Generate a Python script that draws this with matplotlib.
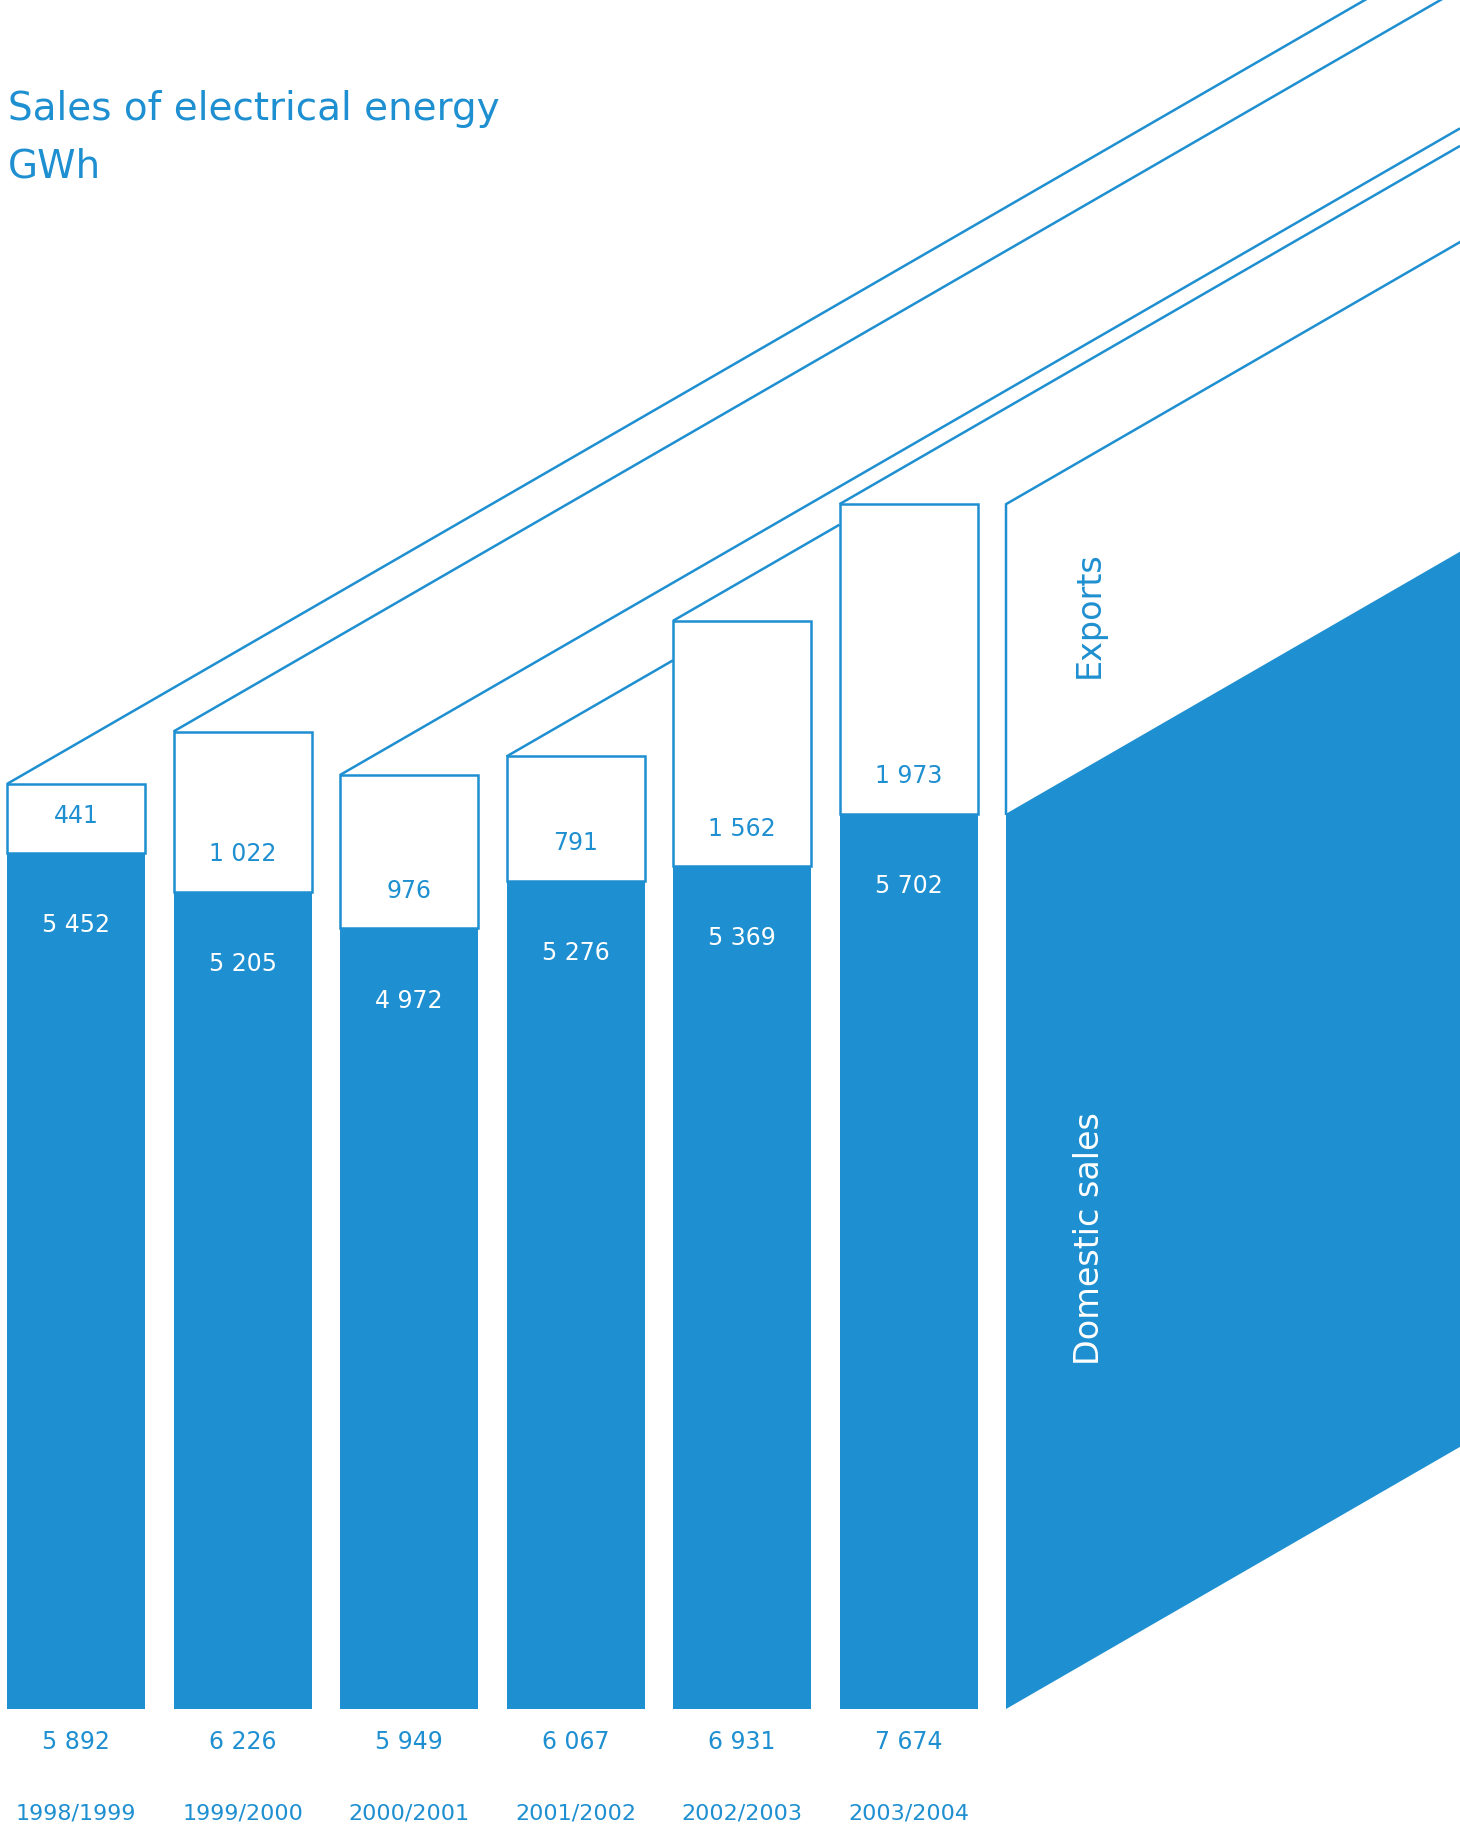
import numpy as np
import matplotlib
matplotlib.use("Agg")
import matplotlib.pyplot as plt
from matplotlib.patches import Rectangle, Polygon

years = ["1998/1999", "1999/2000", "2000/2001", "2001/2002", "2002/2003", "2003/2004"]
domestic = [5452, 5205, 4972, 5276, 5369, 5702]
exports = [441, 1022, 976, 791, 1562, 1973]
totals = [5892, 6226, 5949, 6067, 6931, 7674]

BLUE = "#1e8fd0"
W, H, DPI = 1460, 1830, 100

# layout in pixels
first_center = 76
pitch = 166.5
bar_w = 138 / pitch
base_px = 1709
px_per_gwh = 0.157
slope = np.tan(np.radians(30)) * pitch / px_per_gwh  # GWh per x unit


def fmt(v):
    return f"{v:,}".replace(",", " ")


fig = plt.figure(figsize=(W / DPI, H / DPI), dpi=DPI)
ax = fig.add_axes([0, 0, 1, 1])
ax.set_xlim(-first_center / pitch, (W - first_center) / pitch)
ax.set_ylim(-(H - base_px) / px_per_gwh, base_px / px_per_gwh)
ax.axis("off")
xmax = ax.get_xlim()[1]

n = len(years)
lefts = [i - bar_w / 2 for i in range(n)]

# slanted lines from each bar's top-left corner, hidden behind later bars
for i in range(n):
    x0, y0 = lefts[i], totals[i]
    x1 = xmax
    for j in range(i + 1, n):
        yj = y0 + slope * (lefts[j] - x0)
        if yj < totals[j]:
            x1 = lefts[j]
            break
    ax.plot([x0, x1], [y0, y0 + slope * (x1 - x0)], color=BLUE, lw=1.8,
            zorder=1, solid_capstyle="butt")

for i in range(n):
    ax.add_patch(Rectangle((lefts[i], 0), bar_w, domestic[i], facecolor=BLUE,
                           edgecolor="none", zorder=3))
    ax.add_patch(Rectangle((lefts[i], domestic[i]), bar_w, totals[i] - domestic[i],
                           facecolor="white", edgecolor=BLUE, lw=1.8, zorder=2))
    ax.annotate(fmt(exports[i]), (i, domestic[i]), xytext=(0, 27), textcoords="offset points",
                ha="center", va="center", color=BLUE, fontsize=17)
    ax.annotate(fmt(domestic[i]), (i, domestic[i]), xytext=(0, -52), textcoords="offset points",
                ha="center", va="center", color="white", fontsize=17)
    ax.annotate(fmt(totals[i]), (i, 0), xytext=(0, -24), textcoords="offset points",
                ha="center", va="center", color=BLUE, fontsize=17)
    ax.annotate(years[i], (i, 0), xytext=(0, -75), textcoords="offset points",
                ha="center", va="center", color=BLUE, fontsize=16)

# perspective panel continuing the last year
xl = n - bar_w / 2
d, t = domestic[-1], totals[-1]
dx = xmax - xl
ax.add_patch(Polygon([(xl, 0), (xl, d), (xmax, d + slope * dx), (xmax, slope * dx)],
                     closed=True, facecolor=BLUE, edgecolor="none", zorder=3))
ax.plot([xl, xl, xmax], [d, t, t + slope * dx], color=BLUE, lw=1.8, zorder=2)
ax.text(xl + 0.5, (d + t) / 2 + 280, "Exports", rotation=90, ha="center", va="center",
        color=BLUE, fontsize=24)
ax.text(xl + 0.5, d / 2 + 146, "Domestic sales", rotation=90, ha="center", va="center",
        color="white", fontsize=24)

fig.text(8 / W, 1 - 109 / H, "Sales of electrical energy", ha="left", va="center",
         color=BLUE, fontsize=28)
fig.text(8 / W, 1 - 167 / H, "GWh", ha="left", va="center", color=BLUE, fontsize=28)

fig.savefig("out.png", dpi=DPI, facecolor="white")
